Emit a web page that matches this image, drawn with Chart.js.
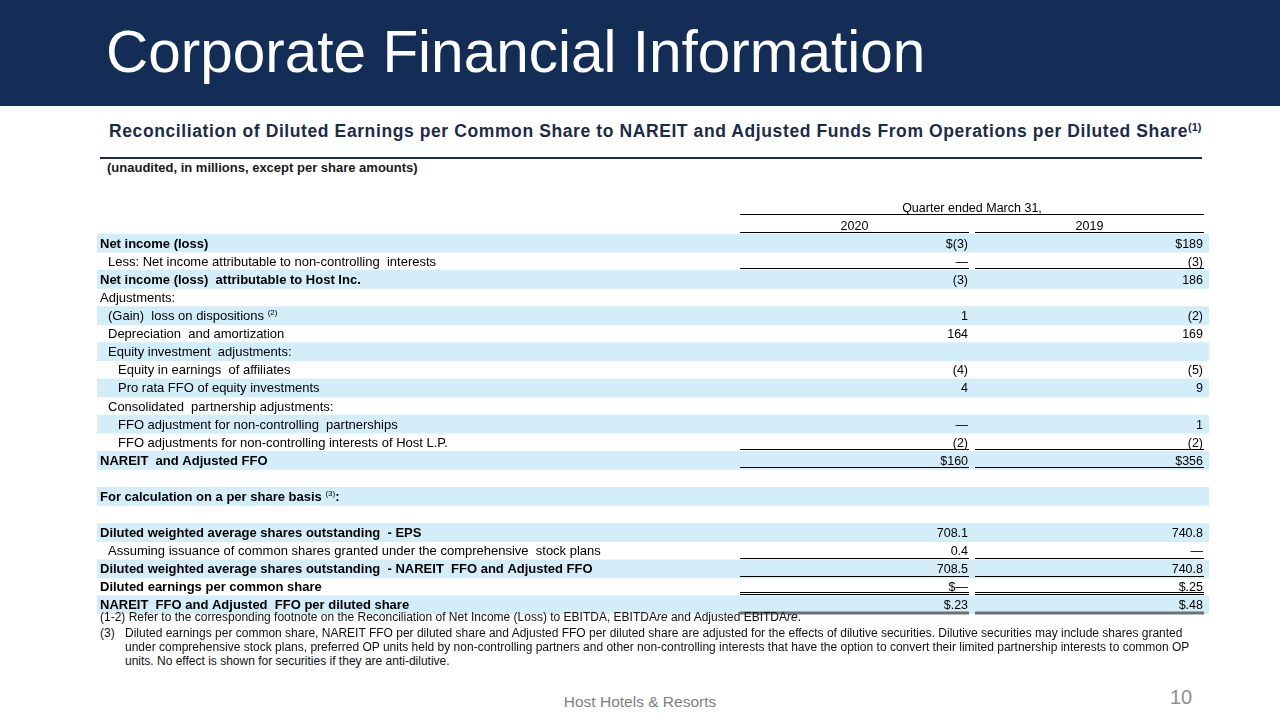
<!DOCTYPE html>
<html>
<head>
<meta charset="utf-8">
<title>Corporate Financial Information</title>
<script src="https://cdn.jsdelivr.net/npm/chart.js@4.4.1/dist/chart.umd.min.js"></script>
<style>
  html, body { margin: 0; padding: 0; }
  body { width: 1280px; height: 720px; position: relative; overflow: hidden; background: #fff;
         font-family: "Liberation Sans", Arial, sans-serif; }
  .band { position: absolute; left: 0; top: 0; width: 1280px; height: 106px; background: #132d56; }
  .title { position: absolute; left: 106px; top: 23px; font-size: 58.5px; line-height: 58px; color: #fff; white-space: nowrap; }
  .subtitle { position: absolute; left: 109px; top: 121px; font-size: 17.5px; line-height: 20px; font-weight: bold;
              letter-spacing: 0.6px; color: #1c2b4a; white-space: nowrap; }
  .subtitle sup { font-size: 11px; vertical-align: 6px; line-height: 0; letter-spacing: 0; }
  .rule { position: absolute; left: 100px; top: 157px; width: 1102px; height: 2px; background: #1c2b4a; }
  .unaudited { position: absolute; left: 107px; top: 161px; font-size: 13px; line-height: 14px; font-weight: bold; color: #1a1a1a; white-space: nowrap; }
  #tableWrap { position: absolute; left: 90px; top: 190px; width: 1130px; height: 430px; }
  .note { position: absolute; font-size: 12px; line-height: 14px; color: #111; white-space: nowrap; }
  .footer { position: absolute; left: 0; width: 1280px; top: 693px; text-align: center; font-size: 15.5px; line-height: 18px; color: #7f7f7f; }
  .page { position: absolute; left: 1170px; top: 686px; font-size: 20px; line-height: 22px; color: #8f8f8f; }
</style>
</head>
<body>
<div class="band"></div>
<div class="title">Corporate Financial Information</div>
<div class="subtitle">Reconciliation of Diluted Earnings per Common Share to NAREIT and Adjusted Funds From Operations per Diluted Share<sup>(1)</sup></div>
<div class="rule"></div>
<div class="unaudited">(unaudited, in millions, except per share amounts)</div>

<div id="tableWrap"><canvas id="reconTable" width="1130" height="430"></canvas></div>

<div class="note" style="left:100px; top:610px;">(1-2) Refer to the corresponding footnote on the Reconciliation of Net Income (Loss) to EBITDA, EBITDA<i>re</i> and Adjusted EBITDA<i>re</i>.</div>
<div class="note" style="left:100px; top:626px;">(3)</div>
<div class="note" style="left:125px; top:626px;">Diluted earnings per common share, NAREIT FFO per diluted share and Adjusted FFO per diluted share are adjusted for the effects of dilutive securities. Dilutive securities may include shares granted</div>
<div class="note" style="left:125px; top:640px;">under comprehensive stock plans, preferred OP units held by non-controlling partners and other non-controlling interests that have the option to convert their limited partnership interests to common OP</div>
<div class="note" style="left:125px; top:654px;">units. No effect is shown for securities if they are anti-dilutive.</div>

<div class="footer">Host Hotels &amp; Resorts</div>
<div class="page">10</div>

<script>
const periodTitle = "Quarter ended March 31,";
const years = ["2020", "2019"];

const rowLabels = [
    "Net income (loss)",
    "Less: Net income attributable to non-controlling  interests",
    "Net income (loss)  attributable to Host Inc.",
    "Adjustments:",
    "(Gain)  loss on dispositions ^(2)",
    "Depreciation  and amortization",
    "Equity investment  adjustments:",
    "Equity in earnings  of affiliates",
    "Pro rata FFO of equity investments",
    "Consolidated  partnership adjustments:",
    "FFO adjustment for non-controlling  partnerships",
    "FFO adjustments for non-controlling interests of Host L.P.",
    "NAREIT  and Adjusted FFO",
    "",
    "For calculation on a per share basis ^(3):",
    "",
    "Diluted weighted average shares outstanding  - EPS",
    "Assuming issuance of common shares granted under the comprehensive  stock plans",
    "Diluted weighted average shares outstanding  - NAREIT  FFO and Adjusted FFO",
    "Diluted earnings per common share",
    "NAREIT  FFO and Adjusted  FFO per diluted share"
];
// indent level of each row label
const rowLevel = [0, 1, 0, 0, 1, 1, 1, 2, 2, 1, 2, 2, 0, 0, 0, 0, 0, 1, 0, 0, 0];

const values2020 = ["$(3)", "\u2014", "(3)", "", "1", "164", "", "(4)", "4", "", "\u2014", "(2)", "$160", "", "", "", "708.1", "0.4", "708.5", "$\u2014", "$.23"];
const values2019 = ["$189", "(3)", "186", "", "(2)", "169", "", "(5)", "9", "", "1", "(2)", "$356", "", "", "", "740.8", "\u2014", "740.8", "$.25", "$.48"];

// ---- styling (kept apart from the data) ----
const HEADER_ROWS = 2;
const BOLD_ROWS = [0, 2, 12, 14, 16, 18, 19, 20];
const RULES = { 1: "single", 11: "single", 12: "single", 17: "single", 18: "single", 19: "double", 20: "thick" };
const COLS = [[0.5782, 0.7842], [0.7896, 0.9955]];
const INDENT_PX = [3, 11, 21];
const FONT = '"Liberation Sans", Arial, sans-serif';

const allLabels = [periodTitle, years.join(" ")].concat(rowLabels);
const shading = allLabels.map((_, i) => {
    const r = i - HEADER_ROWS;
    return r >= 0 && r % 2 === 0 ? [0, 1] : null;
});

function drawLabel(ctx, text, x, y, bold) {
    const m = text.match(/^(.*?)\s*\^(\(\d\))(.*)$/);
    ctx.font = (bold ? "bold " : "") + "13px " + FONT;
    if (!m) {
        ctx.fillText(text, x, y);
        return;
    }
    ctx.fillText(m[1], x, y);
    let cx = x + ctx.measureText(m[1] + " ").width;
    ctx.font = "8px " + FONT;
    ctx.fillText(m[2], cx, y - 5);
    cx += ctx.measureText(m[2]).width;
    ctx.font = (bold ? "bold " : "") + "13px " + FONT;
    ctx.fillText(m[3], cx, y);
}

function hLine(ctx, x1, x2, y, width, color) {
    ctx.beginPath();
    ctx.strokeStyle = color;
    ctx.lineWidth = width;
    ctx.moveTo(x1, y);
    ctx.lineTo(x2, y);
    ctx.stroke();
}

const tableText = {
    id: "tableText",
    afterDatasetsDraw(chart) {
        const { ctx, scales: { x, y } } = chart;
        const half = (y.getPixelForValue(1) - y.getPixelForValue(0)) / 2;
        const cols = COLS.map(c => [x.getPixelForValue(c[0]), x.getPixelForValue(c[1])]);
        ctx.save();
        ctx.fillStyle = "#000";
        ctx.textBaseline = "alphabetic";

        // column headers
        ctx.font = "12.5px " + FONT;
        ctx.textAlign = "center";
        let cy = y.getPixelForValue(0);
        ctx.fillText(periodTitle, (cols[0][0] + cols[1][1]) / 2, cy + 4.5);
        hLine(ctx, cols[0][0], cols[1][1], Math.round(cy + half) - 1.5, 1, "#000");
        cy = y.getPixelForValue(1);
        years.forEach((yr, k) => {
            ctx.fillText(yr, (cols[k][0] + cols[k][1]) / 2, cy + 4.5);
            hLine(ctx, cols[k][0], cols[k][1], Math.round(cy + half) - 1.5, 1, "#000");
        });

        // body rows
        rowLabels.forEach((label, r) => {
            const c = y.getPixelForValue(r + HEADER_ROWS);
            const bold = BOLD_ROWS.includes(r);
            ctx.textAlign = "left";
            if (label) drawLabel(ctx, label, x.left + INDENT_PX[rowLevel[r]], c + 4.5, bold);

            ctx.textAlign = "right";
            ctx.font = "12.5px " + FONT;
            [values2020[r], values2019[r]].forEach((v, k) => {
                if (v) ctx.fillText(v, cols[k][1] - 1, c + 4.5);
            });

            const rule = RULES[r];
            if (!rule) return;
            const base = Math.round(c + half);
            cols.forEach(([a, b]) => {
                if (rule === "single") hLine(ctx, a, b, base - 1.5, 1, "#000");
                if (rule === "double") {
                    hLine(ctx, a, b, base - 3.5, 1, "#000");
                    hLine(ctx, a, b, base - 1.5, 1, "#000");
                }
                if (rule === "thick") hLine(ctx, a, b, base - 1, 3, "#6b7179");
            });
        });
        ctx.restore();
    }
};

new Chart(document.getElementById("reconTable"), {
    type: "bar",
    data: {
        labels: allLabels,
        datasets: [{
            data: shading,
            backgroundColor: "#d3eef9",
            borderWidth: 0,
            barPercentage: 1,
            categoryPercentage: 1
        }]
    },
    options: {
        indexAxis: "y",
        responsive: false,
        animation: false,
        layout: { padding: { left: 7, top: 8, right: 11, bottom: 6 } },
        scales: {
            x: { type: "linear", min: 0, max: 1, display: false },
            y: { type: "category", display: false, offset: true }
        },
        plugins: { legend: { display: false }, tooltip: { enabled: false } }
    },
    plugins: [tableText]
});
</script>
</body>
</html>
